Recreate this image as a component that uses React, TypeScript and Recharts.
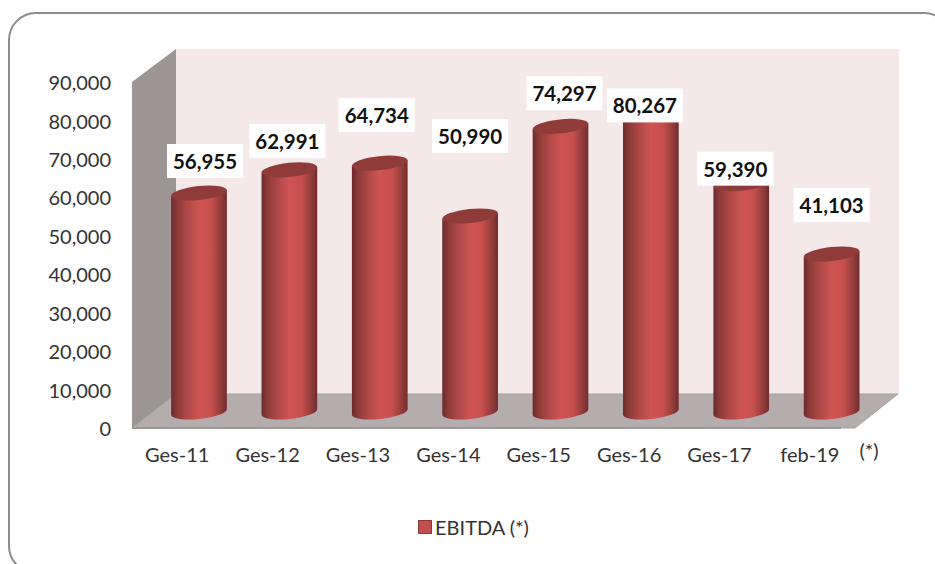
import { Bar, BarChart, LabelList, Legend, XAxis, YAxis, usePlotArea } from "recharts"

const periods = ["Ges-11", "Ges-12", "Ges-13", "Ges-14", "Ges-15", "Ges-16", "Ges-17", "feb-19"]
const ebitda = [56955, 62991, 64734, 50990, 74297, 80267, 59390, 41103]
const yTicks = [0, 10000, 20000, 30000, 40000, 50000, 60000, 70000, 80000, 90000]

// labels were dragged by hand in the original chart, so each has its own nudge
const labelDx = [28, 20, 19, 22, 26, 16, 16, 22]
const labelDy = [-48, -45, -64, -96, -49, -14, -31, -65]

const chartData = periods.map((name, i) => ({ name, value: ebitda[i] }))

const FONT = "Lato, 'Open Sans', sans-serif"
const DEPTH_X = 44
const DEPTH_Y = 34
const TILT = -6

const fmt = (v: number) => v.toLocaleString("en-US")

function Walls() {
    const plot = usePlotArea()
    if (!plot) return null
    const { x, y, width, height } = plot
    const right = x + width
    const bottom = y + height
    return (
        <g>
            <defs>
                <linearGradient id="cyl" x1="0" y1="0" x2="1" y2="0">
                    <stop offset="0%" stopColor="#6b2a29" />
                    <stop offset="10%" stopColor="#8a3a38" />
                    <stop offset="28%" stopColor="#ad4745" />
                    <stop offset="50%" stopColor="#cf5553" />
                    <stop offset="72%" stopColor="#c64f4e" />
                    <stop offset="92%" stopColor="#8a3937" />
                    <stop offset="100%" stopColor="#712c2b" />
                </linearGradient>
            </defs>
            <rect x={9} y={13} width={942} height={560} rx={27} fill="#fff" stroke="#8c8c8c" strokeWidth={2} />
            <rect x={x + DEPTH_X} y={y - DEPTH_Y + 1} width={width} height={height} fill="#f4e8e8" />
            <polygon
                points={`${x},${y} ${x + DEPTH_X},${y - DEPTH_Y + 1} ${x + DEPTH_X},${bottom - DEPTH_Y} ${x},${bottom}`}
                fill="#9c9594"
            />
            <polygon
                points={`${x},${bottom} ${x + DEPTH_X},${bottom - DEPTH_Y} ${right + DEPTH_X - 1},${bottom - DEPTH_Y} ${right},${bottom}`}
                fill="#b5adad"
                stroke="#a3a0a0"
                strokeWidth={1}
            />
            <line x1={x} y1={bottom} x2={right - 14} y2={bottom} stroke="#9a9a9a" strokeWidth={2} />
        </g>
    )
}

function Cylinder({ x, y, width, height }: any) {
    // drawn mid-way through the 3d depth of the plot
    const cx = x + width / 2 + DEPTH_X / 2
    const rx = width / 2
    const rad = (TILT * Math.PI) / 180
    const ox = rx * Math.cos(rad)
    const oy = rx * Math.sin(rad)
    const top = y - DEPTH_Y / 2 + 1
    const base = y + height - DEPTH_Y / 2 + 1
    const body = `M ${cx - ox} ${top - oy} L ${cx - ox} ${base - oy} A ${rx} 7 ${TILT} 0 0 ${cx + ox} ${base + oy} L ${cx + ox} ${top + oy} Z`
    return (
        <g>
            <path d={body} fill="url(#cyl)" />
            <ellipse cx={cx} cy={top} rx={rx} ry={7} fill="#8f3b3a" transform={`rotate(${TILT} ${cx} ${top})`} />
        </g>
    )
}

function BoxLabel({ x, y, width, value, index }: any) {
    const cx = x + width / 2 + labelDx[index]
    const cy = y + labelDy[index]
    return (
        <g>
            <rect x={cx - 38} y={cy - 17} width={76} height={34} fill="#fff" />
            <text x={cx} y={cy} textAnchor="middle" dominantBaseline="central" fontFamily={FONT} fontSize={20.5} fontWeight={700} fill="#111">
                {fmt(value)}
            </text>
        </g>
    )
}

function LegendRow({ payload }: any) {
    return (
        <div style={{ display: "flex", justifyContent: "center", alignItems: "center", fontFamily: FONT, fontSize: 20, color: "#333" }}>
            {(payload || []).map((entry: any) => (
                <span key={entry.value} style={{ display: "flex", alignItems: "center" }}>
                    <span style={{ width: 12, height: 12, marginRight: 3, background: "#c0504d", border: "1px solid #8c3836" }} />
                    {entry.value}
                </span>
            ))}
        </div>
    )
}

export default function App() {
    return (
        <div style={{ position: "absolute", left: 0, top: 0, width: 935, height: 564, overflow: "hidden", background: "#fff" }}>
            <BarChart
                width={935}
                height={564}
                data={chartData}
                margin={{ top: 82, right: 80, bottom: 0, left: 0 }}
                barCategoryGap={0}
            >
                <Walls />
                <XAxis
                    dataKey="name"
                    interval={0}
                    axisLine={false}
                    tickLine={false}
                    height={136}
                    tickMargin={14}
                    tick={{ fontFamily: FONT, fontSize: 20, fill: "#333" }}
                />
                <YAxis
                    domain={[0, 90000]}
                    ticks={yTicks}
                    width={132}
                    axisLine={false}
                    tickLine={false}
                    tickMargin={15}
                    tickFormatter={fmt}
                    tick={{ fontFamily: FONT, fontSize: 20, fill: "#333", dy: 1 }}
                />
                <Legend
                    layout="horizontal"
                    verticalAlign="middle"
                    wrapperStyle={{ left: 0, width: 947, top: 515, bottom: "auto" }}
                    content={<LegendRow />}
                />
                <Bar dataKey="value" name="EBITDA (*)" barSize={56} shape={<Cylinder />} isAnimationActive={false}>
                    <LabelList dataKey="value" content={<BoxLabel />} />
                </Bar>
                <text x={869} y={450} textAnchor="middle" dominantBaseline="central" fontFamily={FONT} fontSize={20} fill="#333">
                    (*)
                </text>
            </BarChart>
        </div>
    )
}
